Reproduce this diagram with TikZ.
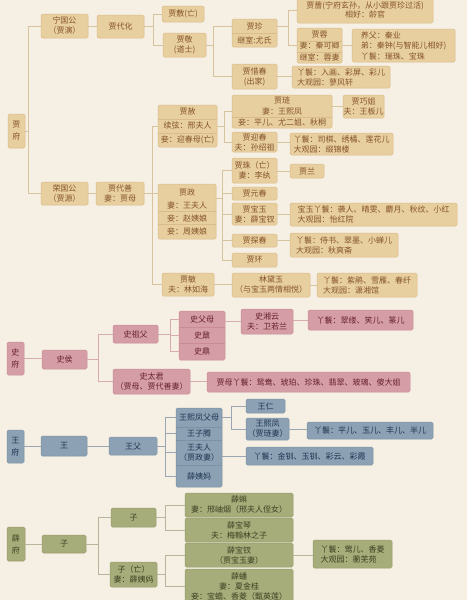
\documentclass[tikz,border=0pt]{standalone}
\usepackage{fontspec}
\newfontfamily\cjk{Noto Sans CJK SC}
\usetikzlibrary{calc}
\definecolor{bg}{HTML}{F6EFE3}
\definecolor{jfill}{HTML}{E8CF9F}
\definecolor{jdraw}{HTML}{D9BC88}
\definecolor{jtext}{HTML}{84542A}
\definecolor{jline}{HTML}{D8C39F}
\definecolor{sfill}{HTML}{D59EA6}
\definecolor{sdraw}{HTML}{C98C95}
\definecolor{stext}{HTML}{66202C}
\definecolor{sline}{HTML}{D8ABB0}
\definecolor{wfill}{HTML}{8DA1B4}
\definecolor{wdraw}{HTML}{7D91A4}
\definecolor{wtext}{HTML}{1D3550}
\definecolor{wline}{HTML}{9AA7B3}
\definecolor{xfill}{HTML}{A7AC7B}
\definecolor{xdraw}{HTML}{979C6C}
\definecolor{xtext}{HTML}{3C4120}
\definecolor{xline}{HTML}{B5B69B}
\newcommand\bx[7]{%
 \pgfmathsetmacro\myW{#4-#2}\pgfmathsetmacro\myH{#5-#3}%
 \pgfmathsetmacro\myX{(#2+#4)/2}\pgfmathsetmacro\myY{(#3+#5)/2}%
 \node[#6,minimum width=\myW pt,minimum height=\myH pt] (#1) at (\myX,\myY) {#7};}
\tikzset{
 base/.style={rounded corners=1.5pt, inner sep=0pt, align=center, line width=0.5pt, font=\cjk\fontsize{8}{10}\selectfont},
 ls/.style={font=\cjk\fontsize{8}{#1}\selectfont},
 jb/.style={base, draw=jdraw, fill=jfill, text=jtext},
 sb/.style={base, draw=sdraw, fill=sfill, text=stext},
 wb/.style={base, draw=wdraw, fill=wfill, text=wtext},
 xb/.style={base, draw=xdraw, fill=xfill, text=xtext},
 rowt/.style={inner sep=0pt, align=center, font=\cjk\fontsize{8}{10}\selectfont},
 jl/.style={draw=jline, line width=0.8pt},
 sl/.style={draw=sline, line width=0.8pt},
 wl/.style={draw=wline, line width=0.8pt},
 xl/.style={draw=xline, line width=0.8pt},
 jdv/.style={draw=jdraw, line width=0.5pt},
 sdv/.style={draw=sdraw, line width=0.5pt},
 wdv/.style={draw=wdraw, line width=0.5pt},
}
\begin{document}
\begin{tikzpicture}[x=1pt,y=-1pt]
\fill[bg] (0,0) rectangle (467,600);
\useasboundingbox (0,0) rectangle (467,600);
% ---------------- Jia ----------------
\bx{jiafu}{8}{114}{25}{148}{jb,ls=12}{贾\\府}
\bx{ngg}{41}{14}{88}{38}{jb}{宁国公\\（贾演）}
\bx{dhua}{97}{15}{144}{38}{jb}{贾代化}
\bx{jfu}{162}{6}{204}{22}{jb}{贾敷(亡)}
\bx{jjing}{163}{33}{206}{57}{jb}{贾敬\\(道士)}
\bx{jzhen}{232}{19}{277}{47}{jb,ls=14}{贾珍\\继室:尤氏}
\draw[jdv] (jzhen.west) -- (jzhen.east);
\bx{jqiang}{297}{-3}{433}{23}{jb,ls=10}{\raisebox{-2pt}{贾蔷(宁府玄孙，从小跟贾珍过活)}\\相好：龄官}
\bx{jrong}{297}{28}{342}{63}{jb,ls=11.5}{贾蓉\\妻：秦可卿\\继室：蓉妻}
\draw[jdv] ([yshift=4.5pt]jrong.west) -- ([yshift=4.5pt]jrong.east);
\draw[jdv] ([yshift=-6.5pt]jrong.west) -- ([yshift=-6.5pt]jrong.east);
\bx{jyf}{352}{29}{455}{62}{jb,ls=10.5,align=left}{养父：秦业\\弟：秦钟(与智能儿相好)\\丫鬟：瑞珠、宝珠}
\bx{jxc}{232}{64}{277}{89}{jb}{贾惜春\\(出家)}
\bx{jxcm}{292}{66}{390}{88}{jb,align=left}{丫鬟：入画、彩屏、彩儿\\大观园：蓼风轩}
\bx{jlian}{232}{95}{332}{128}{jb,ls=11}{贾琏\\妻：王熙凤\\妾：平儿、尤二姐、秋桐}
\draw[jdv] ([yshift=-5.5pt]jlian.west) -- ([yshift=-5.5pt]jlian.east);
\bx{jqj}{343}{95}{384}{118}{jb}{贾巧姐\\夫：王板儿}
\bx{jshe}{158}{105}{217}{147}{jb,ls=14}{贾赦\\续弦：邢夫人\\妾：迎春母(亡)}
\draw[jdv] ([yshift=7pt]jshe.west) -- ([yshift=7pt]jshe.east);
\draw[jdv] ([yshift=-7pt]jshe.west) -- ([yshift=-7pt]jshe.east);
\bx{jycun}{232}{132}{277}{152}{jb}{贾迎春\\夫：孙绍祖}
\bx{jycm}{290}{133}{393}{155}{jb,align=left}{丫鬟：司棋、绣橘、莲花儿\\大观园：缀锦楼}
\bx{rgg}{41}{182}{88}{205}{jb}{荣国公\\（贾源）}
\bx{dshan}{96}{182}{144}{205}{jb}{贾代善\\妻：贾母}
\bx{jzheng}{158}{184}{216}{239}{jb,ls=13}{贾政\\妻：王夫人\\妾：赵姨娘\\妾：周姨娘}
\draw[jdv] ([yshift=0.5pt]jzheng.west) -- ([yshift=0.5pt]jzheng.east);
\draw[jdv] ([yshift=-12.5pt]jzheng.west) -- ([yshift=-12.5pt]jzheng.east);
\bx{jzhu}{232}{158}{277}{183}{jb}{贾珠（亡）\\妻：李纨}
\bx{jlan}{290}{164}{324}{178}{jb}{贾兰}
\bx{jyuan}{232}{187}{277}{200}{jb}{贾元春}
\bx{jbao}{232}{203}{277}{225}{jb}{贾宝玉\\妻：薛宝钗}
\bx{jbaom}{290}{203}{457}{226}{jb,align=left}{宝玉丫鬟：袭人、晴雯、麝月、秋纹、小红\\大观园：怡红院}
\bx{jtan}{232}{234}{277}{247}{jb}{贾探春}
\bx{jtanm}{290}{233}{398}{257}{jb,align=left}{丫鬟：侍书、翠墨、小蝉儿\\大观园：秋爽斋}
\bx{jhuan}{232}{253}{277}{267}{jb}{贾环}
\bx{jmin}{162}{273}{214}{296}{jb}{贾敏\\夫：林如海}
\bx{ldy}{232}{273}{310}{297}{jb}{林黛玉\\（与宝玉两情相悦）}
\bx{ldym}{317}{273}{417}{297}{jb,align=left}{丫鬟：紫鹃、雪雁、春纤\\大观园：潇湘馆}
% Jia connectors
\draw[jl] (jiafu.east) -- ++(4,0);
\draw[jl] (ngg.west) -- ++(-12,0) |- (rgg.west);
\draw[jl] (ngg.east) -- (ngg.east -| dhua.west);
\draw[jl] (dhua.east) -- ++(9,0) coordinate (dv) |- (jfu.west);
\draw[jl] (dv) |- (jjing.west);
\draw[jl] (jjing.east) -- ++(7,0) coordinate (gv) |- ([yshift=7pt]jzhen.west);
\draw[jl] (gv) |- (jxc.west);
\draw[jl] ([yshift=7pt]jzhen.east) -- ++(11,0) coordinate (zhv) |- (jqiang.west);
\draw[jl] (zhv) |- (jrong.west);
\draw[jl] (jrong.east) -- (jrong.east -| jyf.west);
\draw[jl] (jxc.east) -- (jxc.east -| jxcm.west);
\draw[jl] (rgg.east) -- (rgg.east -| dshan.west);
\draw[jl] (dshan.east) -- ++(8,0) coordinate (sv) |- (jshe.west);
\draw[jl] (sv) |- (jmin.west);
\draw[jl] (dshan.east) -- (dshan.east -| jzheng.west);
\draw[jl] (jshe.east) -- ++(7,0) coordinate (hv) |- (jlian.west);
\draw[jl] (hv) |- (jycun.west);
\draw[jl] (jqj.west) -- (jqj.west -| jlian.east);
\draw[jl] (jycun.east) -- (jycun.east -| jycm.west);
\draw[jl] ([yshift=13.5pt]jzheng.east) -- ++(6,0) coordinate (zv) |- (jzhu.west);
\draw[jl] (zv) |- (jyuan.west);
\draw[jl] (zv) |- (jbao.west);
\draw[jl] (zv) |- (jtan.west);
\draw[jl] (zv) |- (jhuan.west);
\draw[jl] (jlan.west) -- (jlan.west -| jzhu.east);
\draw[jl] (jbao.east) -- (jbao.east -| jbaom.west);
\draw[jl] (jtan.east) -- (jtan.east -| jtanm.west);
\draw[jl] (jmin.east) -- (jmin.east -| ldy.west);
\draw[jl] (ldy.east) -- (ldy.east -| ldym.west);
% ---------------- Shi ----------------
\bx{shifu}{7}{342}{24}{375}{sb,ls=12}{史\\府}
\bx{shihou}{42}{350}{87}{369}{sb}{史侯}
\bx{szf}{113}{325}{158}{343}{sb}{史祖父}
\bx{stj}{113}{369}{190}{394}{sb}{史太君\\（贾母、贾代善妻）}
\bx{sfm}{179}{311}{225}{360}{sb,ls=16}{史父母\\史鼐\\史鼎}
\draw[sdv] ([yshift=8pt]sfm.west) -- ([yshift=8pt]sfm.east);
\draw[sdv] ([yshift=-8pt]sfm.west) -- ([yshift=-8pt]sfm.east);
\bx{sxy}{241}{309}{293}{334}{sb}{史湘云\\夫：卫若兰}
\bx{sxym}{308}{310}{413}{330}{sb}{丫鬟：翠缕、笑儿、篆儿}
\bx{sjm}{207}{372}{410}{392}{sb}{贾母丫鬟：鸳鸯、琥珀、珍珠、翡翠、玻璃、傻大姐}
\draw[sl] (shifu.east) -- (shifu.east -| shihou.west);
\draw[sl] (shihou.east) -- ++(11,0) coordinate (hsv) |- (szf.west);
\draw[sl] (hsv) |- (stj.west);
\draw[sl] (szf.east) -- ++(12,0) coordinate (fv) |- ([yshift=16pt]sfm.west);
\draw[sl] (fv) |- (sfm.west);
\draw[sl] (fv) |- ([yshift=-16pt]sfm.west);
\draw[sl] (sxy.west) -- (sxy.west -| sfm.east);
\draw[sl] (sxym.west) -- (sxym.west -| sxy.east);
\draw[sl] (stj.east) -- (stj.east -| sjm.west);
% ---------------- Wang ----------------
\bx{wangfu}{7}{430}{24}{463}{wb,ls=12}{王\\府}
\bx{wang}{41}{436}{87}{456}{wb}{王}
\bx{wfu}{109}{437}{157}{455}{wb}{王父}
\bx{wbig}{176}{408}{222}{487}{wb}{}
\draw[wdv] (wbig.west |- 0,427) -- (wbig.east |- 0,427);
\draw[wdv] (wbig.west |- 0,440) -- (wbig.east |- 0,440);
\draw[wdv] (wbig.west |- 0,465) -- (wbig.east |- 0,465);
\bx{wr1}{176}{408}{222}{427}{rowt,text=wtext}{王熙凤父母}
\bx{wr2}{176}{427}{222}{440}{rowt,text=wtext}{王子腾}
\bx{wr3}{176}{440}{222}{465}{rowt,text=wtext}{王夫人\\（贾政妻）}
\bx{wr4}{176}{465}{222}{487}{rowt,text=wtext}{薛姨妈}
\bx{wren}{246}{399}{285}{413}{wb}{王仁}
\bx{wxf}{246}{418}{289}{440}{wb}{王熙凤\\（贾琏妻）}
\bx{wxfm}{307}{422}{433}{439}{wb}{丫鬟：平儿、玉儿、丰儿、半儿}
\bx{wfrm}{246}{447}{373}{465}{wb}{丫鬟：金钏、玉钏、彩云、彩霞}
\draw[wl] (wangfu.east) -- (wangfu.east -| wang.west);
\draw[wl] (wang.east) -- (wang.east -| wfu.west);
\draw[wl] (wfu.east) -- ++(8,0) coordinate (wv) |- (wr1.west);
\draw[wl] (wv) |- (wr2.west);
\draw[wl] (wv) |- (wr3.west);
\draw[wl] (wv) |- (wr4.west);
\draw[wl] (wr1.east) -- ++(9,0) coordinate (rv) |- (wren.west);
\draw[wl] (rv) |- (wxf.west);
\draw[wl] (wxf.east) -- (wxf.east -| wxfm.west);
\draw[wl] (wfrm.west) -- (wfrm.west -| wr3.east);
% ---------------- Xue ----------------
\bx{xuefu}{7}{527}{25}{561}{xb,ls=12}{薛\\府}
\bx{xz1}{42}{535}{86}{553}{xb}{子}
\bx{xz2}{111}{508}{156}{527}{xb}{子}
\bx{xz3}{110}{562}{157}{587}{xb}{子（亡）\\妻：薛姨妈}
\bx{xke}{185}{493}{293}{517}{xb}{薛蝌\\妻：邢岫烟（邢夫人侄女）}
\bx{xqin}{185}{518}{293}{542}{xb}{薛宝琴\\夫：梅翰林之子}
\bx{xchai}{185}{543}{293}{567}{xb}{薛宝钗\\（贾宝玉妻）}
\bx{xpan}{185}{569}{293}{604}{xb}{薛蟠\\妻：夏金桂\\妾：宝蟾、香菱（甄英莲）}
\bx{xchm}{313}{540}{392}{568}{xb,align=left}{丫鬟：莺儿、香菱\\大观园：蘅芜苑}
\draw[xl] (xuefu.east) -- (xuefu.east -| xz1.west);
\draw[xl] (xz1.east) -- ++(12,0) coordinate (xv) |- (xz2.west);
\draw[xl] (xv) |- (xz3.west);
\draw[xl] (xz2.east) -- ++(9,0) coordinate (xv2) |- (xke.west);
\draw[xl] (xv2) |- (xqin.west);
\draw[xl] (xz3.east) -- ++(8,0) coordinate (xv3) |- (xchai.west);
\draw[xl] (xv3) |- (xpan.west);
\draw[xl] (xchai.east) -- (xchai.east -| xchm.west);
\end{tikzpicture}
\end{document}
